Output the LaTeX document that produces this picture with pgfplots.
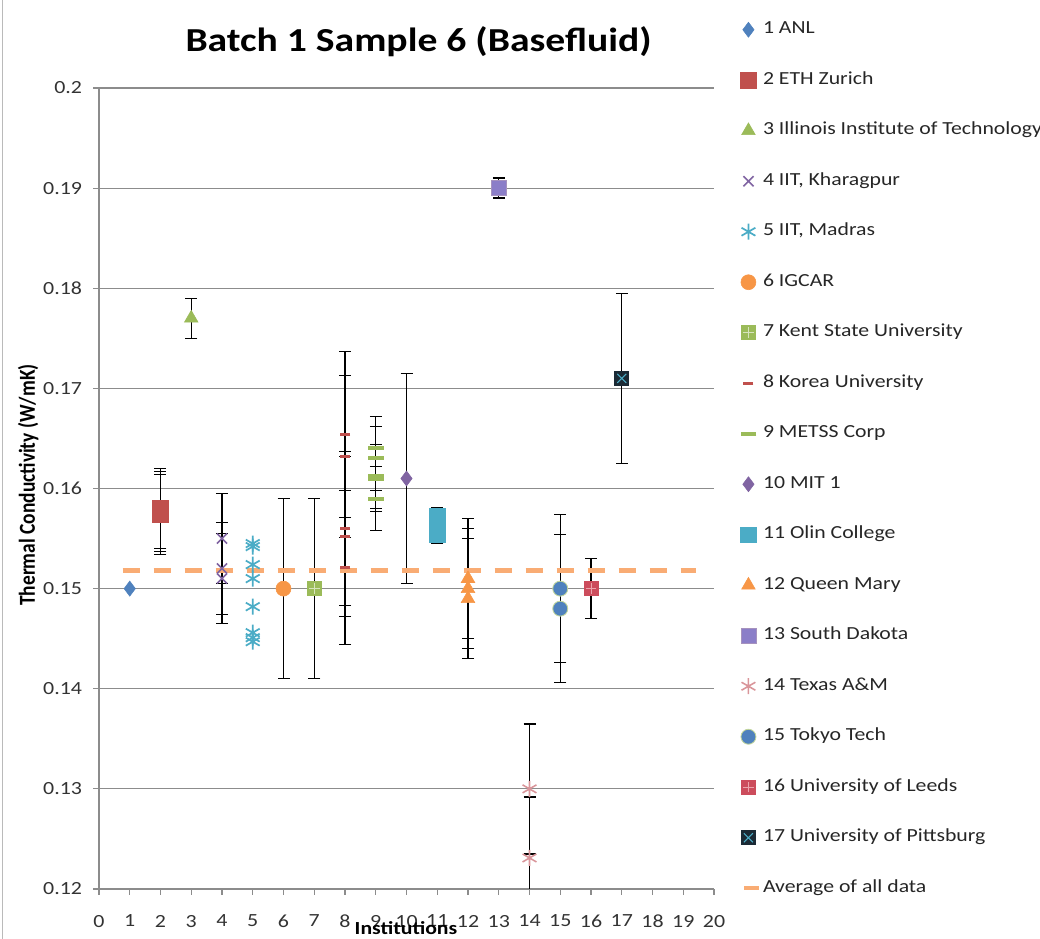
\documentclass[border=0pt]{standalone}
\usepackage{pgfplots}
\pgfplotsset{compat=1.18}
\usepackage{fontspec}
\setmainfont{Carlito}[FakeStretch=1.18]
\newfontfamily\ylabfont{Carlito}[FakeStretch=0.85]

\definecolor{gridc}{HTML}{8C8C8C}
\definecolor{cblue}{HTML}{4F81BD}
\definecolor{cred}{HTML}{C0504D}
\definecolor{cgreen}{HTML}{9BBB59}
\definecolor{cpurple}{HTML}{8064A2}
\definecolor{caqua}{HTML}{4BACC6}
\definecolor{corange}{HTML}{F79646}
\definecolor{clav}{HTML}{8B7EC8}
\definecolor{cpink}{HTML}{D9959A}
\definecolor{kentc}{HTML}{9BBB59}
\definecolor{kentl}{HTML}{D7E4BD}
\definecolor{leedsc}{HTML}{CC4C5C}
\definecolor{leedsl}{HTML}{EBA3AB}
\definecolor{pittc}{HTML}{1B2A35}
\definecolor{cavg}{HTML}{F9AC74}

% filled square with a light plus inside
\pgfdeclareplotmark{kentmk}{%
  \pgfsetfillcolor{kentc}%
  \pgfpathrectangle{\pgfqpoint{-\pgfplotmarksize}{-\pgfplotmarksize}}{\pgfqpoint{2\pgfplotmarksize}{2\pgfplotmarksize}}%
  \pgfusepath{fill}%
  \pgfsetstrokecolor{kentl}\pgfsetlinewidth{0.7pt}%
  \pgfpathmoveto{\pgfqpoint{-0.7\pgfplotmarksize}{0pt}}\pgfpathlineto{\pgfqpoint{0.7\pgfplotmarksize}{0pt}}%
  \pgfpathmoveto{\pgfqpoint{0pt}{-0.7\pgfplotmarksize}}\pgfpathlineto{\pgfqpoint{0pt}{0.7\pgfplotmarksize}}%
  \pgfusepath{stroke}}
\pgfdeclareplotmark{leedsmk}{%
  \pgfsetfillcolor{leedsc}%
  \pgfpathrectangle{\pgfqpoint{-\pgfplotmarksize}{-\pgfplotmarksize}}{\pgfqpoint{2\pgfplotmarksize}{2\pgfplotmarksize}}%
  \pgfusepath{fill}%
  \pgfsetstrokecolor{leedsl}\pgfsetlinewidth{0.7pt}%
  \pgfpathmoveto{\pgfqpoint{-0.7\pgfplotmarksize}{0pt}}\pgfpathlineto{\pgfqpoint{0.7\pgfplotmarksize}{0pt}}%
  \pgfpathmoveto{\pgfqpoint{0pt}{-0.7\pgfplotmarksize}}\pgfpathlineto{\pgfqpoint{0pt}{0.7\pgfplotmarksize}}%
  \pgfusepath{stroke}}
% dark square with a cross inside
\pgfdeclareplotmark{pittmk}{%
  \pgfsetfillcolor{pittc}%
  \pgfpathrectangle{\pgfqpoint{-\pgfplotmarksize}{-\pgfplotmarksize}}{\pgfqpoint{2\pgfplotmarksize}{2\pgfplotmarksize}}%
  \pgfusepath{fill}%
  \pgfsetstrokecolor{caqua}\pgfsetlinewidth{0.7pt}%
  \pgfpathmoveto{\pgfqpoint{-0.6\pgfplotmarksize}{-0.6\pgfplotmarksize}}\pgfpathlineto{\pgfqpoint{0.6\pgfplotmarksize}{0.6\pgfplotmarksize}}%
  \pgfpathmoveto{\pgfqpoint{-0.6\pgfplotmarksize}{0.6\pgfplotmarksize}}\pgfpathlineto{\pgfqpoint{0.6\pgfplotmarksize}{-0.6\pgfplotmarksize}}%
  \pgfusepath{stroke}}

\pgfplotsset{
  eb/.style={
    /pgfplots/error bars/y dir=both,
    /pgfplots/error bars/y explicit,
    /pgfplots/error bars/error bar style={black, solid, line width=1pt},
    /pgfplots/error bars/error mark options={rotate=90, black, solid, line width=1pt, mark size=4.2pt}},
}

% pixel-like helper: 1 unit = 0.7pt, origin at the lower left corner of the plot area
\newcommand\px[2]{({(#1-99)*0.7pt},{(889-#2)*0.7pt})}

\begin{document}
\begin{tikzpicture}
\begin{axis}[
  width=430.5pt, height=560.7pt, scale only axis,
  xmin=0, xmax=20, ymin=0.12, ymax=0.2,
  axis x line=bottom, axis y line=left,
  axis line style={gridc, line width=0.8pt, -},
  xtick={0,1,...,20},
  ytick={0.12,0.13,0.14,0.15,0.16,0.17,0.18,0.19,0.2},
  yticklabels={0.12,0.13,0.14,0.15,0.16,0.17,0.18,0.19,0.2},
  xticklabels={0,1,2,3,4,5,6,7,8,9,10,11,12,13,14,15,16,17,18,19,20},
  ymajorgrids, grid style={gridc, line width=0.8pt},
  tick style={gridc, line width=0.8pt},
  tick align=outside, major tick length=4pt,
  ticklabel style={font=\fontsize{13pt}{15pt}\selectfont, text=black!80, inner sep=0pt},
  yticklabel style={xshift=-7.7pt},
  xticklabel style={yshift=-14pt},
  legend cell align=left,
  legend image code/.code={\draw[#1] plot coordinates {(0.2cm,0cm)};},
  legend style={at={(1.0358,1.087)}, anchor=north west, draw=none, fill=none,
    font=\fontsize{12.9pt}{14pt}\selectfont, text=black!85,
    nodes={inner sep=0pt, text height=8.6pt, text depth=3pt},
    row sep=23.75pt, column sep=1.6pt},
]
\addplot[only marks, mark=diamond*, mark size=5.25pt, color=cblue]
  coordinates {(1,0.1500)};
\addlegendentry{1 ANL}

\addplot[only marks, mark=square*, mark size=5.5pt, color=cred, eb]
  coordinates {(2,0.1580) +- (0,0.0040) (2,0.1577) +- (0,0.0040) (2,0.1574) +- (0,0.0040)};
\addlegendentry{2 ETH Zurich}

\addplot[only marks, mark=triangle*, mark size=5.5pt, color=cgreen, eb]
  coordinates {(3,0.1770) +- (0,0.0020)};
\addlegendentry{3 Illinois Institute of Technology}

\addplot[only marks, mark=x, mark size=5pt, color=cpurple, mark options={line width=1.1pt}, eb]
  coordinates {(4,0.1550) +- (0,0.0045) (4,0.1520) +- (0,0.0046) (4,0.1510) +- (0,0.0045)};
\addlegendentry{4 IIT, Kharagpur}

\addplot[only marks, mark=asterisk, mark size=5.6pt, color=caqua, mark options={line width=1.2pt}]
  coordinates {(5,0.1545) (5,0.1542) (5,0.1524) (5,0.1510) (5,0.1482) (5,0.1456) (5,0.1451) (5,0.1447)};
\addlegendentry{5 IIT, Madras}

\addplot[only marks, mark=*, mark size=5.25pt, color=corange, eb]
  coordinates {(6,0.1500) +- (0,0.0090)};
\addlegendentry{6 IGCAR}

\addplot[only marks, mark=kentmk, mark size=5.25pt, eb]
  coordinates {(7,0.1500) +- (0,0.0090)};
\addlegendentry{7 Kent State University}

\addplot[only marks, mark=-, mark size=3.5pt, color=cred, mark options={line width=2.2pt}, eb]
  coordinates {(8,0.1654) +- (0,0.0083) (8,0.1632) +- (0,0.0081) (8,0.1560) +- (0,0.0077)
               (8,0.1552) +- (0,0.0080) (8,0.1521) +- (0,0.0077)};
\addlegendentry{8 Korea University}

\addplot[only marks, mark=-, mark size=5.5pt, color=cgreen, mark options={line width=2.8pt}, eb]
  coordinates {(9,0.1640) +- (0,0.0032) (9,0.1630) +- (0,0.0032) (9,0.1612) +- (0,0.0032)
               (9,0.1609) +- (0,0.0032) (9,0.1590) +- (0,0.0032)};
\addlegendentry{9 METSS Corp}

\addplot[only marks, mark=diamond*, mark size=5.25pt, color=cpurple, eb]
  coordinates {(10,0.1610) +- (0,0.0105)};
\addlegendentry{10 MIT 1}

\addplot[only marks, mark=square*, mark size=5.5pt, color=caqua, eb]
  coordinates {(11,0.1572) +- (0,0.0009) (11,0.1566) +- (0,0.0009) (11,0.1560) +- (0,0.0009) (11,0.1554) +- (0,0.0009)};
\addlegendentry{11 Olin College}

\addplot[only marks, mark=triangle*, mark size=5.5pt, color=corange, eb]
  coordinates {(12,0.1510) +- (0,0.0060) (12,0.1500) +- (0,0.0060) (12,0.1490) +- (0,0.0060)};
\addlegendentry{12 Queen Mary}

\addplot[only marks, mark=square*, mark size=5.25pt, color=clav, mark options={draw=cpurple!70, line width=0.4pt}, eb]
  coordinates {(13,0.1900) +- (0,0.0010)};
\addlegendentry{13 South Dakota}

\addplot[only marks, mark=asterisk, mark size=5.6pt, color=cpink, mark options={line width=1.1pt}, eb]
  coordinates {(14,0.1300) +- (0,0.0065) (14,0.1231) +- (0,0.0061)};
\addlegendentry{14 Texas A\&M}

\addplot[only marks, mark=*, mark size=5.25pt, color=cblue, mark options={draw=cgreen!60, line width=0.6pt}, eb]
  coordinates {(15,0.1500) +- (0,0.0074) (15,0.1480) +- (0,0.0074)};
\addlegendentry{15 Tokyo Tech}

\addplot[only marks, mark=leedsmk, mark size=5.25pt, eb]
  coordinates {(16,0.1500) +- (0,0.0030)};
\addlegendentry{16 University of Leeds}

\addplot[only marks, mark=pittmk, mark size=5.25pt, eb]
  coordinates {(17,0.1710) +- (0,0.0085)};
\addlegendentry{17 University of Pittsburg}

\addplot[no marks, color=cavg, line width=3pt, dash pattern=on 11.9pt off 9.8pt,
  legend image code/.code={\draw[cavg, line width=3pt] (0.1cm,0cm) -- (0.45cm,0cm);}]
  coordinates {(0.77,0.1518) (19.4,0.1518)};
\addlegendentry{Average of all data}
\end{axis}

\node[font=\fontsize{23.5pt}{26pt}\selectfont\bfseries, anchor=base] at \px{418.5}{52} {Batch 1 Sample 6 (Basefluid)};
\node[font=\ylabfont\fontsize{16pt}{18pt}\selectfont\bfseries, rotate=90, anchor=base] at \px{35}{485} {Thermal Conductivity (W/mK)};
\node[font=\fontsize{12.9pt}{14pt}\selectfont\bfseries, anchor=base] at \px{406}{935} {Institutions};
\draw[gridc!60, line width=0.8pt] \px{2.5}{0} -- \px{2.5}{939};

\pgfresetboundingbox
\useasboundingbox \px{0}{0} rectangle \px{1040}{939};
\end{tikzpicture}
\end{document}
